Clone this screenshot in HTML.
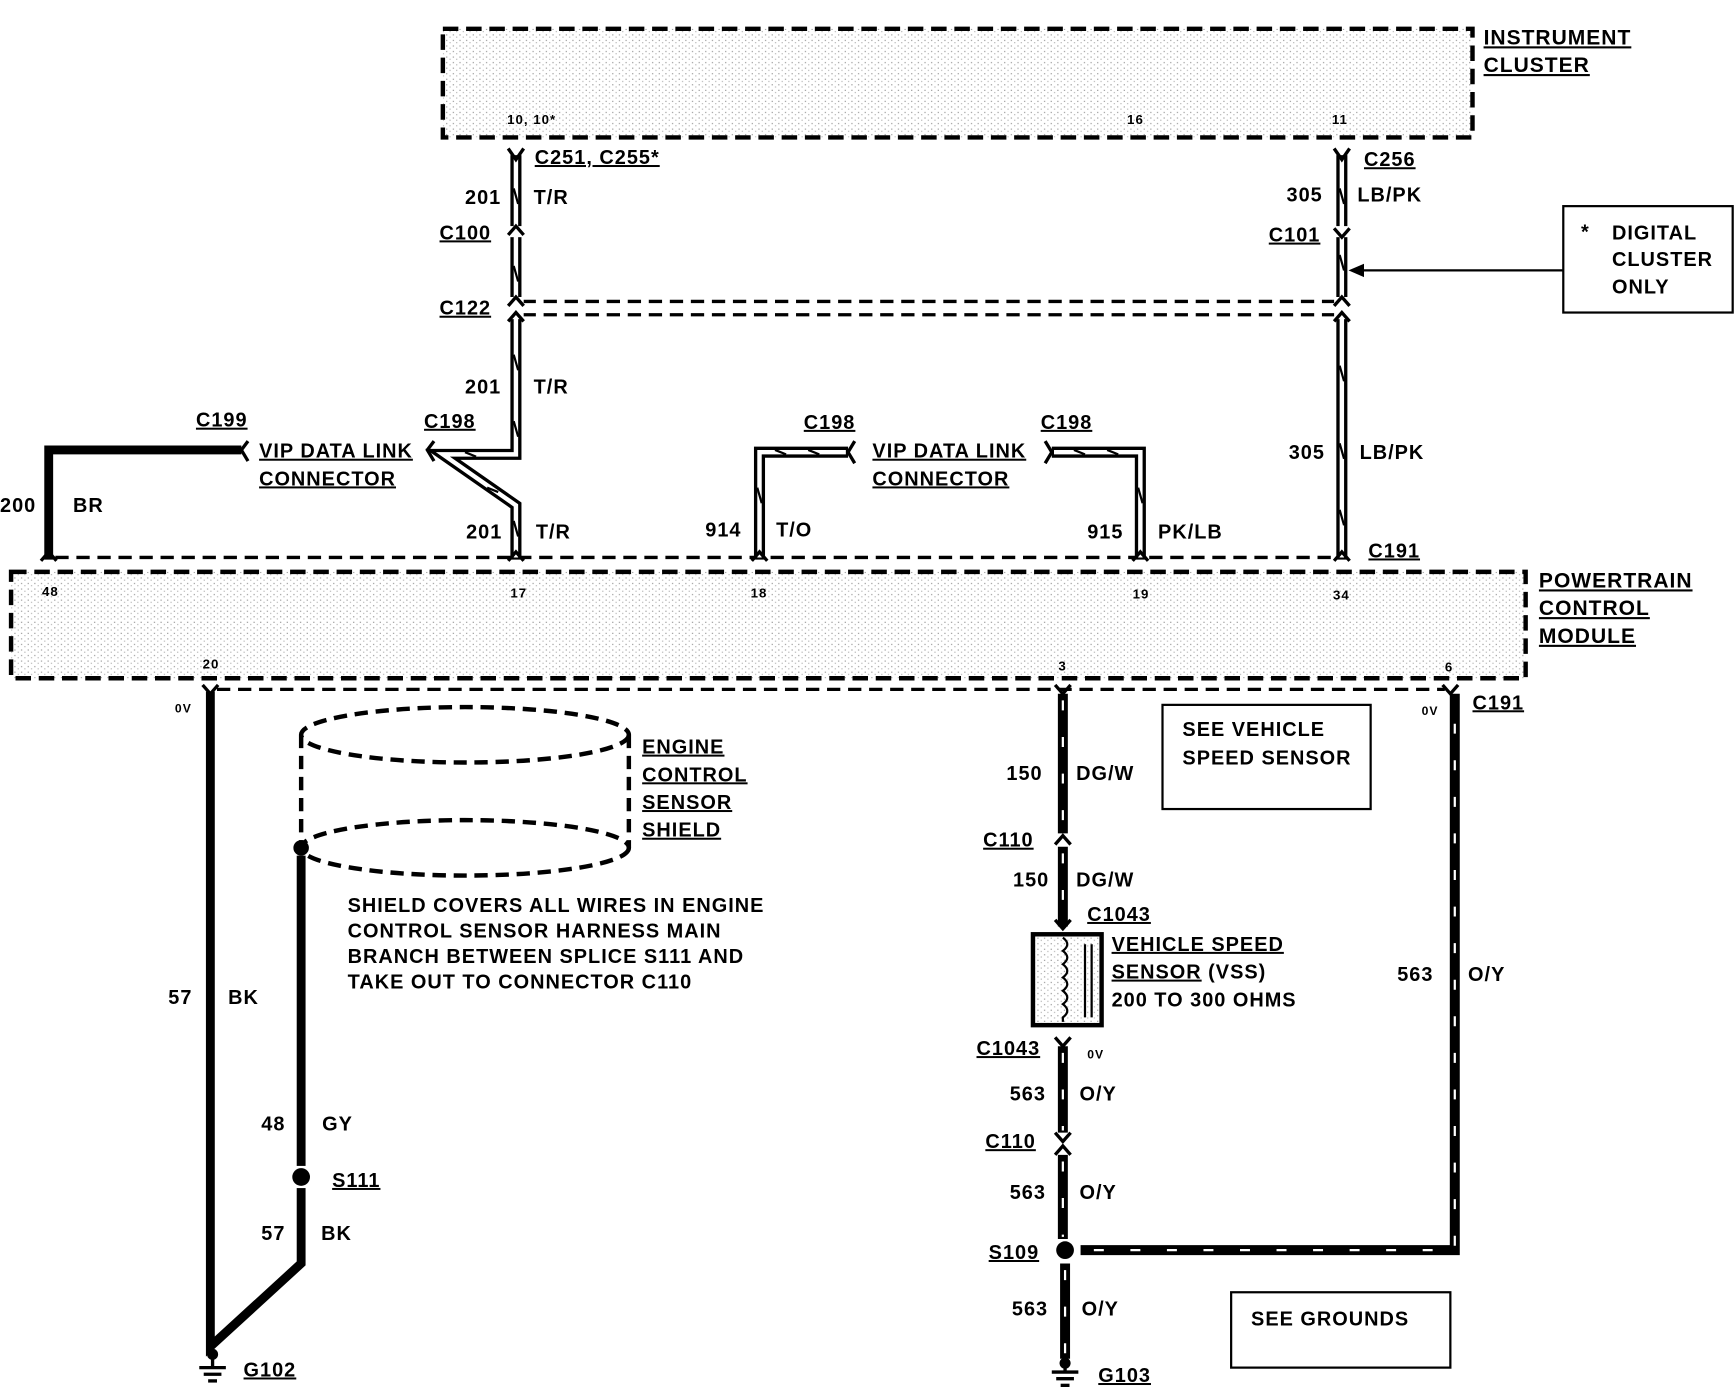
<!DOCTYPE html>
<html><head><meta charset="utf-8"><style>
html,body{margin:0;padding:0;background:#fff}
svg{display:block}
text{font-family:"Liberation Sans",Arial,sans-serif;font-weight:bold;fill:#000;letter-spacing:0.9px}
.u{text-decoration:underline}
</style></head><body>
<svg width="1736" height="1392" viewBox="0 0 1568 1256" preserveAspectRatio="none" xmlns="http://www.w3.org/2000/svg">
<defs>
<pattern id="dots" width="6" height="5" patternUnits="userSpaceOnUse">
<rect x="1" y="1" width="1" height="1" fill="#888"/><rect x="4" y="3" width="1" height="1" fill="#aaa"/>
</pattern>
</defs>
<rect x="400" y="26" width="930" height="98" fill="url(#dots)" stroke="#000" stroke-width="4" stroke-dasharray="14 7"/>
<text x="1340" y="40" font-size="19" class="u">INSTRUMENT</text>
<text x="1340" y="65" font-size="19" class="u">CLUSTER</text>
<text x="458" y="112" font-size="12">10, 10*</text>
<text x="1018" y="112" font-size="12">16</text>
<text x="1203" y="112" font-size="12">11</text>

<rect x="10" y="516" width="1368" height="96" fill="url(#dots)" stroke="#000" stroke-width="4" stroke-dasharray="14 7"/>
<text x="1390" y="530" font-size="19" class="u">POWERTRAIN</text>
<text x="1390" y="555" font-size="19" class="u">CONTROL</text>
<text x="1390" y="580" font-size="19" class="u">MODULE</text>
<text x="38" y="538" font-size="12">48</text>
<text x="461" y="539" font-size="12">17</text>
<text x="678" y="539" font-size="12">18</text>
<text x="1023" y="540" font-size="12">19</text>
<text x="1204" y="541" font-size="12">34</text>
<text x="183" y="603" font-size="12">20</text>
<text x="956" y="605" font-size="12">3</text>
<text x="1305" y="606" font-size="12">6</text>

<g stroke="#000" stroke-width="3" stroke-dasharray="12 7" fill="none">
<line x1="50" y1="503" x2="1205" y2="503"/>
<line x1="196" y1="622" x2="1305" y2="622"/>
<line x1="472" y1="272" x2="1206" y2="272"/>
<line x1="472" y1="284" x2="1206" y2="284"/>
</g>

<g fill="none" stroke-linejoin="miter">
<g stroke="#000" stroke-width="10">
<path d="M466 140 V410 H400 L466 456 V505"/>
<path d="M686 505 V408 H766"/>
<path d="M1030 505 V408 H950"/>
<path d="M1212 140 V505"/>
</g>
<g stroke="#fff" stroke-width="4">
<path d="M466 142 V410 H400 L466 456 V503"/>
<path d="M686 503 V408 H764"/>
<path d="M1030 503 V408 H952"/>
<path d="M1212 142 V503"/>
</g>
<g stroke="#000" stroke-width="2">
<path d="M464 170 l4 14 M464 240 l4 14 M464 320 l4 14 M464 380 l4 14 M420 408 l10 4 M440 440 l10 4 M464 470 l4 14"/>
<path d="M684 440 l4 14 M700 406 l10 4 M730 406 l10 4 M1028 440 l4 14 M970 406 l10 4 M1000 406 l10 4"/>
<path d="M1210 170 l4 14 M1210 230 l4 14 M1210 330 l4 14 M1210 400 l4 14 M1210 460 l4 14"/>
</g>
<g stroke="#fff" stroke-width="14">
<line x1="466" y1="204" x2="466" y2="214"/>
<line x1="466" y1="268" x2="466" y2="288"/>
<line x1="1212" y1="204" x2="1212" y2="214"/>
<line x1="1212" y1="268" x2="1212" y2="288"/>
</g>
</g>
<g fill="none" stroke="#000" stroke-width="3">
<path d="M459 134 L466 144 L473 134"/><path d="M1205 134 L1212 144 L1219 134"/>
<path d="M459 212 L466 204 L473 212"/><path d="M1205 206 L1212 214 L1219 206"/>
<path d="M459 276 L466 268 L473 276"/><path d="M459 290 L466 282 L473 290"/>
<path d="M1205 276 L1212 268 L1219 276"/><path d="M1205 290 L1212 282 L1219 290"/>
<path d="M459 506 L466 498 L473 506"/><path d="M679 506 L686 498 L693 506"/>
<path d="M1023 506 L1030 498 L1037 506"/><path d="M1205 506 L1212 498 L1219 506"/>
<path d="M37 506 L44 498 L51 506"/>
<path d="M392 398 L386 406 L392 416"/><path d="M224 398 L218 406 L224 416"/>
<path d="M772 398 L766 408 L772 418"/><path d="M944 398 L950 408 L944 418"/>
<path d="M183 618 L190 626 L197 618"/><path d="M953 618 L960 626 L967 618"/><path d="M1303 618 L1310 626 L1317 618"/>
<path d="M953 762 L960 754 L967 762"/><path d="M953 830 L960 838 L967 830"/>
<path d="M953 936 L960 944 L967 936"/><path d="M953 1022 L960 1030 L967 1022"/><path d="M953 1042 L960 1034 L967 1042"/>
</g>

<path d="M218 406 H44 V505" fill="none" stroke="#000" stroke-width="8"/>

<rect x="1412" y="186" width="153" height="96" fill="none" stroke="#000" stroke-width="2"/>
<text x="1428" y="215" font-size="18">*</text>
<text x="1456" y="216" font-size="18">DIGITAL</text>
<text x="1456" y="240" font-size="18">CLUSTER</text>
<text x="1456" y="265" font-size="18">ONLY</text>
<line x1="1412" y1="244" x2="1228" y2="244" stroke="#000" stroke-width="2"/>
<path d="M1218 244 L1232 238 L1232 250 Z"/>

<g font-size="18">
<text x="483" y="148" class="u">C251, C255*</text>
<text x="1232" y="150" class="u">C256</text>
<text x="420" y="184">201</text><text x="482" y="184">T/R</text>
<text x="1162" y="182">305</text><text x="1226" y="182">LB/PK</text>
<text x="397" y="216" class="u">C100</text>
<text x="1146" y="218" class="u">C101</text>
<text x="397" y="284" class="u">C122</text>
<text x="420" y="355">201</text><text x="482" y="355">T/R</text>
<text x="177" y="385" class="u">C199</text>
<text x="383" y="386" class="u">C198</text>
<text x="726" y="387" class="u">C198</text>
<text x="940" y="387" class="u">C198</text>
<text x="234" y="413" class="u">VIP DATA LINK</text>
<text x="234" y="438" class="u">CONNECTOR</text>
<text x="788" y="413" class="u">VIP DATA LINK</text>
<text x="788" y="438" class="u">CONNECTOR</text>
<text x="1164" y="414">305</text><text x="1228" y="414">LB/PK</text>
<text x="0" y="462">200</text><text x="66" y="462">BR</text>
<text x="421" y="486">201</text><text x="484" y="486">T/R</text>
<text x="637" y="484">914</text><text x="701" y="484">T/O</text>
<text x="982" y="486">915</text><text x="1046" y="486">PK/LB</text>
<text x="1236" y="503" class="u">C191</text>
</g>

<path d="M190 624 V1215 L272 1140 V772" fill="none" stroke="#000" stroke-width="8"/>
<circle cx="272" cy="765" r="7"/>
<rect x="262" y="1052" width="20" height="20" fill="#fff"/>
<circle cx="272" cy="1062" r="8"/>
<g fill="none" stroke="#000" stroke-width="4" stroke-dasharray="12 7">
<ellipse cx="420" cy="663" rx="148" ry="25"/>
<ellipse cx="420" cy="765" rx="148" ry="25"/>
<line x1="272" y1="663" x2="272" y2="765"/>
<line x1="568" y1="663" x2="568" y2="765"/>
</g>
<g font-size="18">
<text x="158" y="643" font-size="11">0V</text>
<text x="580" y="680" class="u">ENGINE</text>
<text x="580" y="705" class="u">CONTROL</text>
<text x="580" y="730" class="u">SENSOR</text>
<text x="580" y="755" class="u">SHIELD</text>
<text x="314" y="823">SHIELD COVERS ALL WIRES IN ENGINE</text>
<text x="314" y="846">CONTROL SENSOR HARNESS MAIN</text>
<text x="314" y="869">BRANCH BETWEEN SPLICE S111 AND</text>
<text x="314" y="892">TAKE OUT TO CONNECTOR C110</text>
<text x="152" y="906">57</text><text x="206" y="906">BK</text>
<text x="236" y="1020">48</text><text x="291" y="1020">GY</text>
<text x="300" y="1071" class="u">S111</text>
<text x="236" y="1119">57</text><text x="290" y="1119">BK</text>
<text x="220" y="1242" class="u">G102</text>
</g>
<g stroke="#000" stroke-width="3">
<line x1="192" y1="1218" x2="192" y2="1234"/><line x1="180" y1="1234" x2="204" y2="1234"/><line x1="184" y1="1240" x2="200" y2="1240"/><line x1="188" y1="1246" x2="196" y2="1246"/>
<line x1="962" y1="1226" x2="962" y2="1238"/><line x1="950" y1="1238" x2="974" y2="1238"/><line x1="954" y1="1244" x2="970" y2="1244"/><line x1="958" y1="1250" x2="966" y2="1250"/>
</g>
<circle cx="192" cy="1222" r="5"/><circle cx="962" cy="1230" r="5"/>

<g fill="none" stroke="#000" stroke-width="9">
<line x1="960" y1="626" x2="960" y2="752"/>
<line x1="960" y1="764" x2="960" y2="836"/>
<line x1="960" y1="944" x2="960" y2="1022"/>
<line x1="960" y1="1042" x2="960" y2="1118"/>
<line x1="962" y1="1140" x2="962" y2="1226"/>
<path d="M976 1128 H1314 V626"/>
</g>
<g fill="none" stroke="#fff" stroke-width="2" stroke-dasharray="9 24">
<line x1="960" y1="632" x2="960" y2="750"/>
<line x1="960" y1="770" x2="960" y2="834"/>
<line x1="960" y1="950" x2="960" y2="1020"/>
<line x1="960" y1="1048" x2="960" y2="1116"/>
<line x1="962" y1="1146" x2="962" y2="1224"/>
<path d="M988 1128 H1314 V632"/>
</g>
<circle cx="962" cy="1128" r="8"/>
<rect x="933" y="843" width="62" height="82" fill="url(#dots)" stroke="#000" stroke-width="4"/>
<path d="M960 846 q8 6 0 12 q8 6 0 12 q8 6 0 12 q8 6 0 12 q8 6 0 12 q8 6 0 12 V922" fill="none" stroke="#000" stroke-width="2"/>
<line x1="980" y1="852" x2="980" y2="918" stroke="#000" stroke-width="2"/>
<line x1="986" y1="852" x2="986" y2="918" stroke="#000" stroke-width="2"/>
<rect x="1050" y="636" width="188" height="94" fill="none" stroke="#000" stroke-width="2"/>
<rect x="1112" y="1166" width="198" height="68" fill="none" stroke="#000" stroke-width="2"/>
<g font-size="18">
<text x="1068" y="664">SEE VEHICLE</text>
<text x="1068" y="690">SPEED SENSOR</text>
<text x="1130" y="1196">SEE GROUNDS</text>
<text x="1284" y="645" font-size="11">0V</text>
<text x="1330" y="640" class="u">C191</text>
<text x="909" y="704">150</text><text x="972" y="704">DG/W</text>
<text x="888" y="764" class="u">C110</text>
<text x="915" y="800">150</text><text x="972" y="800">DG/W</text>
<text x="982" y="831" class="u">C1043</text>
<text x="1004" y="858" class="u">VEHICLE SPEED</text>
<text x="1004" y="883"><tspan class="u">SENSOR</tspan> (VSS)</text>
<text x="1004" y="908" font-weight="normal">200 TO 300 OHMS</text>
<text x="882" y="952" class="u">C1043</text>
<text x="982" y="955" font-size="11">0V</text>
<text x="912" y="993">563</text><text x="975" y="993">O/Y</text>
<text x="890" y="1036" class="u">C110</text>
<text x="912" y="1082">563</text><text x="975" y="1082">O/Y</text>
<text x="1262" y="885">563</text><text x="1326" y="885">O/Y</text>
<text x="893" y="1136" class="u">S109</text>
<text x="914" y="1187">563</text><text x="977" y="1187">O/Y</text>
<text x="992" y="1247" class="u">G103</text>
</g>
</svg>
</body></html>
